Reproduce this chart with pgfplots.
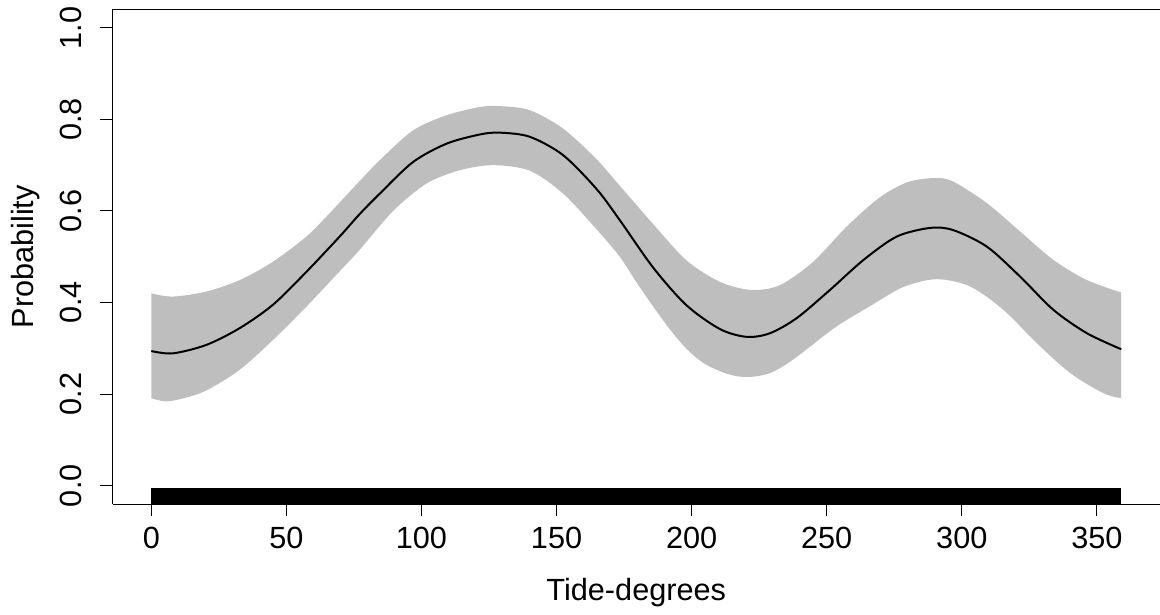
\documentclass[border=0pt]{standalone}
\usepackage{pgfplots}
\pgfplotsset{compat=1.18}
\usepgfplotslibrary{fillbetween}
\usepackage{fontspec}
\setmainfont{Liberation Sans}
\definecolor{bandgray}{RGB}{190,190,190}
\begin{document}
\begin{tikzpicture}
\begin{axis}[
  at={(0,0)}, anchor=south west,
  scale only axis, width=785.625pt, height=370.875pt,
  xmin=-14.36, xmax=373.36, ymin=-0.04, ymax=1.04,
  axis x line*=bottom, axis y line*=left,
  axis line style={-, line width=0.75pt, black},
  tick align=outside, major tick length=9pt,
  tick style={line width=0.75pt, black},
  xtick={0,50,100,150,200,250,300,350},
  xticklabels={0,50,100,150,200,250,300,350},
  ytick={0,0.2,0.4,0.6,0.8,1.0},
  yticklabels={0.0,0.2,0.4,0.6,0.8,1.0},
  every tick label/.append style={font=\fontsize{23}{27.6}\selectfont},
  xticklabel style={anchor=north, inner sep=0pt},
  yticklabel style={rotate=90, anchor=base, inner sep=0pt},
  xticklabel shift=8.25pt,
  yticklabel shift=14.1pt,
  xlabel={Tide-degrees}, ylabel={Probability},
  label style={font=\fontsize{23}{27.6}\selectfont},
  xlabel style={at={(axis description cs:0.5,-0.1955)}, anchor=base, inner sep=0pt},
  ylabel style={at={(axis description cs:-0.0754,0.5)}, anchor=base, inner sep=0pt},
]
\addplot[name path=up, draw=none, smooth] coordinates {
(0,0.420) (8,0.413) (20.4,0.424) (32.7,0.449) (45,0.489) (57.4,0.544) (66,0.595)
(75,0.652) (84.6,0.711) (96.9,0.776) (109.3,0.809) (121.6,0.827) (129,0.829)
(140.1,0.820) (152.4,0.780) (164.8,0.713) (173.4,0.655) (185.8,0.571)
(198.1,0.492) (210.5,0.445) (222,0.4275) (232.7,0.438) (245,0.489)
(257.4,0.566) (269.7,0.630) (280,0.663) (290,0.672) (296.9,0.664)
(309.3,0.617) (321.6,0.555) (333.9,0.493) (346.3,0.449) (359,0.422)
};
\addplot[name path=lo, draw=none, smooth] coordinates {
(0,0.191) (5.5,0.184) (12,0.191) (20.4,0.208) (32.7,0.253) (45,0.318) (57.4,0.391)
(69.7,0.468) (77.1,0.515) (89.5,0.600) (101.9,0.660) (114.2,0.689)
(126.5,0.700) (140.1,0.688) (152.4,0.638) (164.8,0.560) (173.4,0.500)
(179.6,0.444) (185.8,0.391) (192,0.341) (198.1,0.299) (204.3,0.268)
(210.5,0.250) (216.7,0.239) (222.8,0.238) (229,0.246) (235,0.265)
(241.3,0.292) (253.7,0.348) (266,0.392) (278.4,0.434) (290.7,0.451)
(303.1,0.435) (315.4,0.384) (327.8,0.311) (340.1,0.246) (352.4,0.202) (359,0.191)
};
\addplot[fill=bandgray, draw=none] fill between[of=up and lo];
\addplot[black, line width=1.5pt, smooth] coordinates {
(0,0.294) (8,0.289) (20.4,0.3075) (32.7,0.344) (45,0.395) (57.4,0.467)
(69.7,0.544) (77.1,0.593) (84.6,0.638) (96.9,0.707) (109.3,0.747)
(121.6,0.767) (129,0.771) (140.1,0.762) (152.4,0.722) (164.8,0.648)
(173.4,0.580) (185.8,0.476) (198.1,0.394) (210.5,0.342)
(220.4,0.325) (229,0.333) (238.9,0.366) (251.2,0.4275) (263.6,0.493)
(275.9,0.544) (288.3,0.563) (296.9,0.558) (309.3,0.522) (321.6,0.4565)
(333.9,0.384) (346.3,0.333) (359,0.298)
};
\addplot[fill=black, draw=black, line width=0.75pt] coordinates {
(0,-0.04) (358.6,-0.04) (358.6,-0.0068) (0,-0.0068) (0,-0.04)
};
\draw[line width=0.75pt, black] (rel axis cs:0,1) -- (rel axis cs:1,1);
\end{axis}
\pgfresetboundingbox
\path[use as bounding box] (-84.375pt,-82.5pt) rectangle (785.625pt,378pt);
\end{tikzpicture}
\end{document}
